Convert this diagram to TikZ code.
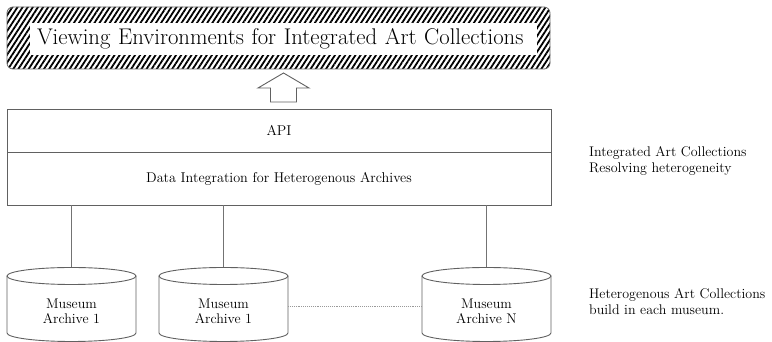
\documentclass[tikz,border=0pt]{standalone}
\usetikzlibrary{patterns.meta,calc}
\begin{document}
\begin{tikzpicture}[x=1pt,y=1pt,
  frame/.style={draw=black!62, line width=0.9pt},
  link/.style={draw=black!55, line width=0.9pt},
  boxtext/.style={font=\fontsize{14.2}{17}\selectfont},
  notetext/.style={font=\fontsize{14}{15.5}\selectfont, align=left, inner sep=0pt, anchor=west},
  dbtext/.style={font=\fontsize{14}{14.5}\selectfont, align=center, inner sep=0pt},
  museumdb/.pic={
    \draw[frame] (-64.5,28.5) -- (-64.5,-28.5)
      arc[start angle=180, end angle=360, x radius=64.5, y radius=8.5]
      -- (64.5,28.5);
    \draw[frame] (0,28.5) ellipse[x radius=64.5, y radius=8.5];
    \coordinate (-top) at (0,37);
    \coordinate (-left) at (-64.5,-1.5);
    \coordinate (-right) at (64.5,-1.5);
    \node[dbtext] (-label) at (0,-7) {#1};
  }]
\useasboundingbox (0,0) rectangle (772,342);

% hatched title banner
\node[draw=black!60, line width=0.8pt, rounded corners=6pt,
      minimum width=543pt, minimum height=62pt, inner sep=0pt,
      pattern={Lines[angle=57, distance=4.3pt, line width=1.8pt]}] (banner) at (278.5,304) {};
\node[fill=white, inner xsep=7pt, inner ysep=0pt, minimum height=32pt,
      text width=493pt, align=left, font=\fontsize{22.7}{25}\selectfont] (title) at (283.5,303)
      {Viewing Environments for Integrated Art Collections};

% layered integration box
\node[frame, minimum width=544pt, minimum height=43pt, inner sep=0pt, boxtext] (api) at (279,211.5) {API};
\node[frame, minimum width=544pt, minimum height=53pt, inner sep=0pt, boxtext] (data) at (279,163.5)
      {Data Integration for Heterogenous Archives};

% hollow upward arrow
\draw[frame, fill=white] (270.5,240) -- (270.5,254) -- (258,254) -- (283.5,269)
      -- (309,254) -- (296.5,254) -- (296.5,240) -- cycle;

% museum archives
\pic (m1) at (71.5,37.5) {museumdb={Museum\\Archive 1}};
\pic (m2) at (223.5,37.5) {museumdb={Museum\\Archive 1}};
\pic (m3) at (486.5,37.5) {museumdb={Museum\\Archive N}};

\draw[link] (data.south -| m1-top) -- (m1-top);
\draw[link] (data.south -| m2-top) -- (m2-top);
\draw[link] (data.south -| m3-top) -- (m3-top);
\draw[draw=black!40, line width=0.9pt, densely dotted] (m2-right) -- (m3-left);

% side notes
\node[notetext] (note1) at (589,181) {Integrated Art Collections\\Resolving heterogeneity};
\node[notetext] (note2) at (589,40.5) {Heterogenous Art Collections\\build in each museum.};
\end{tikzpicture}
\end{document}
